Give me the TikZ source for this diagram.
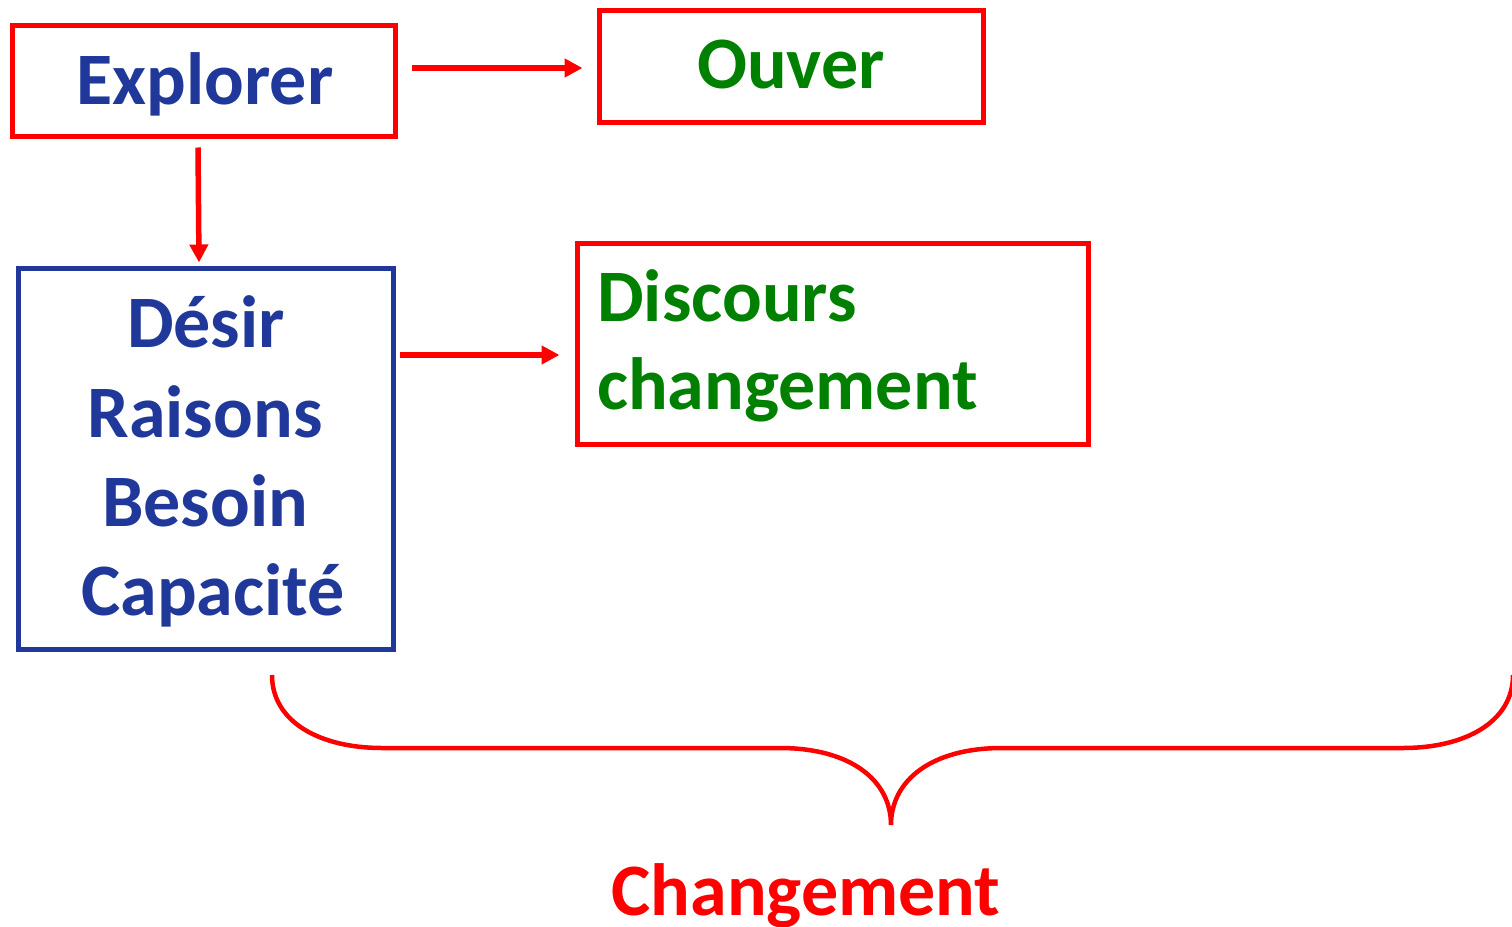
\documentclass[tikz,border=0pt]{standalone}
\usepackage{fontspec}
\setmainfont{Carlito}
\usetikzlibrary{arrows.meta}
\definecolor{navy}{RGB}{31,56,153}
\definecolor{leaf}{RGB}{0,128,0}
\definecolor{alarm}{RGB}{255,0,0}
\tikzset{
  redbox/.style={draw=alarm, line width=5pt, inner sep=0pt},
  bluebox/.style={draw=navy, line width=5pt, inner sep=0pt},
  big/.style={font=\fontsize{74}{88}\selectfont\bfseries, inner sep=0pt, anchor=base},
  arr/.style={draw=alarm, line width=5.5pt, -{Triangle[length=18pt,width=18pt]}},
  brace/.style={draw=alarm, line width=4.5pt}
}
\begin{document}
\begin{tikzpicture}[x=1pt,y=-1pt]
  \useasboundingbox (0,0) rectangle (1512,926);
  \clip (0,0) rectangle (1512,926);

  % boxes
  \node[redbox, minimum width=383pt, minimum height=111pt] (explorer) at (204,80.5) {};
  \node[redbox, minimum width=384pt, minimum height=112pt] (ouver) at (791,66) {};
  \node[bluebox, minimum width=375pt, minimum height=381pt] (desir) at (205.5,458.5) {};
  \node[redbox, minimum width=511pt, minimum height=201pt] (discours) at (832.5,343.5) {};

  % box texts
  \node[big, text=navy] (t-explorer) at (205,104) {Explorer};
  \node[big, text=leaf] (t-ouver) at (791,88) {Ouver};
  \node[big, text=navy] (t-desir) at (206,347) {Désir};
  \node[big, text=navy] (t-raisons) at (205,437) {Raisons};
  \node[big, text=navy] (t-besoin) at (205,526) {Besoin};
  \node[big, text=navy] (t-capacite) at (213,615) {Capacité};
  \node[big, text=leaf, anchor=base west] (t-discours) at (597,321) {Discours};
  \node[big, text=leaf, anchor=base west] (t-chg) at (597,409) {changement};

  % connectors
  \draw[arr] ([shift={(14,-12.5)}]explorer.east) -- ([shift={(-14,2)}]ouver.west);
  \draw[arr] ([shift={(-6,9)}]explorer.south) -- ([shift={(-6.5,-3)}]desir.north);
  \draw[arr] ([shift={(4,-103.5)}]desir.east) -- ([shift={(-15,11.5)}]discours.west);

  % brace
  \coordinate (bl) at (272,675);
  \coordinate (btip) at (891,825);
  \coordinate (br) at (1513,675);
  \draw[brace] (bl) .. controls (272,722) and (320,748) .. (382,748)
    -- (780,748) .. controls (850,748) and (891,780) .. (btip)
    .. controls (891,780) and (932,748) .. (1002,748)
    -- (1403,748) .. controls (1465,748) and (1513,722) .. (br);

  \node[big, text=alarm] (t-change) at (806,915) {Changement};
\end{tikzpicture}
\end{document}
